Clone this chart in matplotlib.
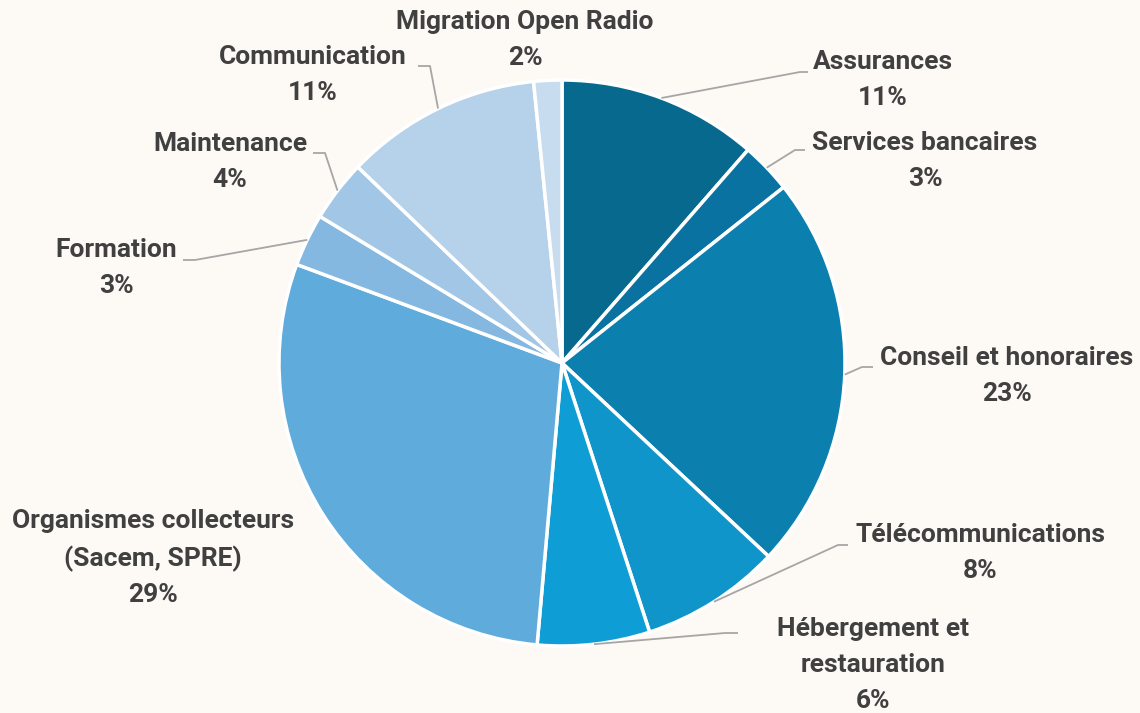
import numpy as np
import matplotlib
matplotlib.use("Agg")
import matplotlib.pyplot as plt

# Budget breakdown (share of spending, %)
categories = [
    "Assurances",
    "Services bancaires",
    "Conseil et honoraires",
    "Télécommunications",
    "Hébergement et\nrestauration",
    "Organismes collecteurs\n(Sacem, SPRE)",
    "Formation",
    "Maintenance",
    "Communication",
    "Migration Open Radio",
]
shares = [11.4, 2.9, 22.6, 8.0, 6.4, 29.2, 3.0, 3.5, 11.2, 1.6]
colors = [
    "#08698F", "#0A72A0", "#0B80AE", "#0F95C9", "#0F9DD5",
    "#5FABDB", "#85B8E0", "#A1C6E6", "#B6D1EA", "#C8DCEF",
]

# Label layout: text centre and leader elbow (None = no leader)
label_pos = [
    (883, 80), (925, 161), (1007, 376), (980, 553), (873, 665),
    (153, 558), (116, 268), (230, 162), (313, 75), (525, 40),
]
elbows = [
    (800, 72), (795, 150), (862, 367), (838, 545), (725, 633),
    None, (195, 260), (325, 153), (430, 66), None,
]
ends = [
    (808, 72), (805, 150), (873, 367), (848, 545), (738, 633),
    None, (183, 260), (313, 153), (418, 66), None,
]

W, H = 1140, 713
bg = "#FDF9F5"
fig = plt.figure(figsize=(W / 100, H / 100), dpi=100, facecolor=bg)
ax = fig.add_axes([0, 0, 1, 1])
ax.set_facecolor(bg)

cx, cy, r = 562, H - 363, 283
wedges, _ = ax.pie(
    shares, colors=colors, startangle=90, counterclock=False,
    center=(cx, cy), radius=r, frame=True,
    wedgeprops=dict(edgecolor="white", linewidth=2.5),
)
ax.set_xlim(0, W)
ax.set_ylim(0, H)
ax.set_aspect("equal")
ax.axis("off")

font = ["Roboto", "DejaVu Sans"]
for w, name, val, pos, elb, end in zip(wedges, categories, shares,
                                       label_pos, elbows, ends):
    ax.text(pos[0], H - pos[1], f"{name}\n{val:.0f}%", ha="center",
            va="center", fontsize=19, fontweight="bold", color="#404040",
            family=font, linespacing=1.62)
    if elb is not None:
        mid = np.deg2rad((w.theta1 + w.theta2) / 2)
        sx, sy = cx + r * np.cos(mid), cy + r * np.sin(mid)
        ax.plot([sx, elb[0], end[0]], [sy, H - elb[1], H - end[1]],
                color="#A6A6A6", lw=1.3, solid_capstyle="butt")

fig.savefig("out.png", dpi=100, facecolor=bg)
